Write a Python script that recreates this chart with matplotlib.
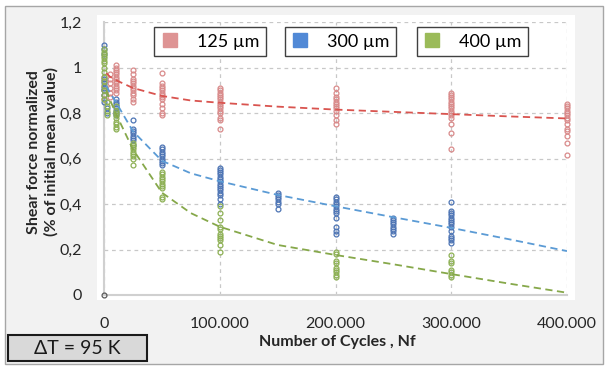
import matplotlib
matplotlib.use("Agg")
import matplotlib.pyplot as plt
from matplotlib.lines import Line2D
from matplotlib.patches import Rectangle
import numpy as np

plt.rcParams['font.family'] = ['Lato', 'DejaVu Sans']

# ---------------- data ----------------
series_names = ["125 µm", "300 µm", "400 µm"]

# measured points: (cycles, list of normalized values)
red_points = {
    0: [0.96, 0.94, 0.92, 0.90, 0.88, 0.86],
    5000: [0.97, 0.95, 0.93, 0.91, 0.89, 0.87],
    10000: [1.01, 1.00, 0.99, 0.98, 0.97, 0.96, 0.95, 0.94, 0.93, 0.92, 0.91, 0.90, 0.89],
    25000: [0.99, 0.97, 0.95, 0.94, 0.93, 0.92, 0.91, 0.90, 0.89, 0.88, 0.86, 0.85],
    50000: [0.975, 0.93, 0.92, 0.91, 0.90, 0.89, 0.88, 0.87, 0.86, 0.84, 0.82, 0.80, 0.79],
    100000: [0.91, 0.90, 0.89, 0.88, 0.87, 0.86, 0.85, 0.84, 0.83, 0.82, 0.81, 0.80, 0.78, 0.77, 0.73],
    200000: [0.91, 0.89, 0.87, 0.86, 0.85, 0.84, 0.83, 0.82, 0.81, 0.79, 0.77, 0.75],
    300000: [0.89, 0.88, 0.87, 0.86, 0.85, 0.84, 0.83, 0.82, 0.81, 0.80, 0.79, 0.78, 0.75, 0.71, 0.64],
    400000: [0.84, 0.83, 0.82, 0.81, 0.80, 0.79, 0.78, 0.77, 0.75, 0.73, 0.72, 0.70, 0.67, 0.615],
}
blue_points = {
    0: [1.10, 1.08, 1.06, 0.95, 0.93, 0.91, 0.90, 0.88, 0.85],
    3000: [0.82, 0.80],
    10000: [0.86, 0.85, 0.84, 0.83, 0.82, 0.81, 0.80, 0.79],
    25000: [0.77, 0.73, 0.72, 0.71, 0.70, 0.69, 0.68, 0.66],
    50000: [0.65, 0.64, 0.63, 0.62, 0.61, 0.60, 0.59, 0.58, 0.57],
    100000: [0.56, 0.55, 0.54, 0.53, 0.52, 0.51, 0.50, 0.49, 0.48, 0.47, 0.46, 0.45, 0.44, 0.42, 0.40],
    150000: [0.45, 0.44, 0.43, 0.42, 0.41, 0.40, 0.38],
    200000: [0.43, 0.42, 0.41, 0.40, 0.39, 0.38, 0.37, 0.36, 0.34, 0.30, 0.28, 0.27],
    250000: [0.34, 0.33, 0.32, 0.31, 0.30, 0.29, 0.28, 0.27],
    300000: [0.41, 0.37, 0.36, 0.35, 0.34, 0.33, 0.32, 0.31, 0.30, 0.28, 0.26, 0.25, 0.24, 0.23],
}
green_points = {
    0: [1.08, 1.07, 1.06, 1.05, 1.04, 1.03, 1.02, 1.00, 0.98, 0.96, 0.94, 0.92, 0.90, 0.88, 0.86],
    3000: [0.85, 0.83, 0.81, 0.79],
    10000: [0.83, 0.81, 0.80, 0.79, 0.78, 0.76, 0.75, 0.74, 0.73],
    25000: [0.67, 0.66, 0.65, 0.64, 0.63, 0.62, 0.61, 0.60, 0.57],
    50000: [0.54, 0.53, 0.52, 0.51, 0.50, 0.49, 0.48, 0.47, 0.43, 0.42],
    100000: [0.39, 0.36, 0.33, 0.30, 0.29, 0.27, 0.26, 0.25, 0.24, 0.22, 0.19],
    200000: [0.19, 0.18, 0.15, 0.14, 0.12, 0.11, 0.10, 0.09, 0.08],
    300000: [0.175, 0.15, 0.14, 0.11, 0.10, 0.09, 0.08],
}
origin_point_x = [0]
origin_point_y = [0.0]

# trend lines
trend_x = [2000, 5000, 10000, 25000, 50000, 75000, 100000, 150000, 200000, 250000, 300000, 350000, 400000]
red_trend = [0.975, 0.96, 0.945, 0.91, 0.875, 0.855, 0.845, 0.828, 0.815, 0.805, 0.795, 0.785, 0.776]
blue_trend = [0.92, 0.89, 0.85, 0.72, 0.59, 0.535, 0.50, 0.44, 0.39, 0.342, 0.295, 0.245, 0.193]
green_trend = [0.90, 0.86, 0.80, 0.64, 0.45, 0.36, 0.30, 0.22, 0.176, 0.135, 0.092, 0.05, 0.01]

x_ticks = [0, 100000, 200000, 300000, 400000]
x_tick_labels = ["0", "100.000", "200.000", "300.000", "400.000"]
y_ticks = [0, 0.2, 0.4, 0.6, 0.8, 1.0, 1.2]
y_tick_labels = ["0", "0,2", "0,4", "0,6", "0,8", "1", "1,2"]

# ---------------- styling ----------------
W, H = 607, 367
fig = plt.figure(figsize=(W / 100, H / 100), dpi=100)
fig.patch.set_facecolor("white")

def fx(px):
    return px / W

def fy(py):
    return 1 - py / H

# outer chart area
fig.patches.append(Rectangle((fx(5), fy(364)), fx(603) - fx(5), fy(6) - fy(364),
                             transform=fig.transFigure, facecolor="#f2f2f2",
                             edgecolor="#a6a6a6", linewidth=1.0, zorder=-10))
# plot area (white)
fig.patches.append(Rectangle((fx(97), fy(300)), fx(575) - fx(97), fy(15) - fy(300),
                             transform=fig.transFigure, facecolor="white",
                             edgecolor="none", zorder=-9))

ax = fig.add_axes([fx(104), fy(295), fx(567) - fx(104), fy(22) - fy(295)])
ax.set_facecolor("none")
ax.set_xlim(0, 400000)
ax.set_ylim(0, 1.2)

ax.set_xticks(x_ticks)
ax.set_xticklabels(x_tick_labels)
ax.set_yticks(y_ticks)
ax.set_yticklabels(y_tick_labels)
ax.tick_params(length=0, labelsize=11.5, labelcolor="#262626")
ax.tick_params(axis="x", pad=16)
ax.tick_params(axis="y", pad=16)
for s in ["top", "right"]:
    ax.spines[s].set_visible(False)
for s in ["left", "bottom"]:
    ax.spines[s].set_color("#d0d0d0")
    ax.spines[s].set_linewidth(1.5)
ax.grid(True, color="#c8c8c8", linestyle=(0, (3, 3)), linewidth=0.9)
ax.set_axisbelow(True)

pt_colors = ["#d98a8a", "#4d74b4", "#8db054"]
trend_colors = ["#d9544f", "#5b9bd5", "#86a84a"]
legend_colors = ["#de9494", "#5189d6", "#9bbb59"]

def scatter_series(points, color):
    xs, ys = [], []
    for x, vals in points.items():
        xs += [x] * len(vals)
        ys += vals
    ax.plot(xs, ys, linestyle="none", marker="o", markersize=3.5,
            markerfacecolor="none", markeredgecolor=color, markeredgewidth=0.9,
            clip_on=False, zorder=3)

scatter_series(red_points, pt_colors[0])
scatter_series(blue_points, pt_colors[1])
scatter_series(green_points, pt_colors[2])
ax.plot(origin_point_x, origin_point_y, linestyle="none", marker="o", markersize=3.5,
        markerfacecolor="none", markeredgecolor="#595959", markeredgewidth=0.9,
        clip_on=False, zorder=3)

for tr, c in zip([red_trend, blue_trend, green_trend], trend_colors):
    ax.plot(trend_x, tr, color=c, linestyle=(0, (4, 2.5)), linewidth=1.3, zorder=4)

# legend: three separate boxes
legend_centers = [(210, 41.5), (340.5, 41.5), (472.5, 41.5)]
for name, c, (cx, cy) in zip(series_names, legend_colors, legend_centers):
    h = Line2D([], [], linestyle="none", marker="s", markersize=10,
               markerfacecolor=c, markeredgecolor=c)
    leg = fig.legend([h], [name], loc="center", bbox_to_anchor=(fx(cx), fy(cy)),
                     frameon=True, fancybox=False, fontsize=13, handlelength=1.0,
                     handletextpad=1.0, borderpad=0.35, borderaxespad=0)
    fr = leg.get_frame()
    fr.set_edgecolor("#404040")
    fr.set_linewidth(1.0)
    fr.set_facecolor("white")
    fr.set_alpha(1)

# axis labels
fig.text(fx(43), fy(152), "Shear force normalized\n(% of initial mean value)",
         rotation=90, ha="center", va="center", multialignment="center",
         fontsize=11.5, fontweight="bold", color="#262626", linespacing=1.3)
fig.text(fx(337), fy(342), "Number of Cycles , Nf", ha="center", va="center",
         fontsize=11.5, fontweight="bold", color="#262626")

# Delta T box
fig.patches.append(Rectangle((fx(8), fy(361)), fx(147) - fx(8), fy(335) - fy(361),
                             transform=fig.transFigure, facecolor="#d9d9d9",
                             edgecolor="#1a1a1a", linewidth=1.5, zorder=5))
fig.text(fx(77.5), fy(348.5), "ΔT = 95 K", ha="center", va="center",
         fontsize=14, color="#1a1a1a", zorder=6)

fig.savefig("out.png", dpi=100, facecolor=fig.get_facecolor())
